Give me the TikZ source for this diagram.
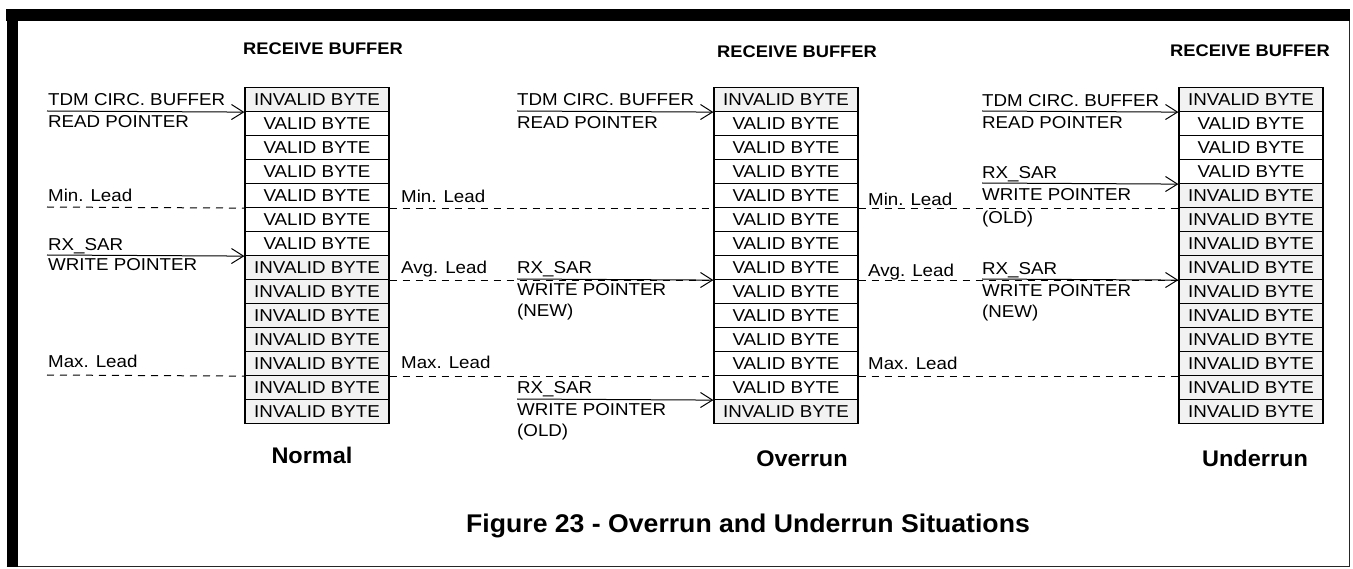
\documentclass[tikz,border=0pt]{standalone}
\usepackage{fontspec}
\setmainfont{Liberation Sans}[FakeStretch=1.09]
\newfontfamily\botfont{Liberation Sans}[FakeStretch=1.04]
\usetikzlibrary{arrows.meta}
\newcommand\txtI{INVALID BYTE}
\newcommand\txtV{VALID BYTE}
\begin{document}
\begin{tikzpicture}[x=1pt,y=-1pt,
  cellbase/.style={draw,line width=1.2pt,rectangle,minimum width=144pt,minimum height=24pt,inner sep=0pt,font=\fontsize{17.2}{20}\selectfont},
  cellV/.style={cellbase,fill=white},
  cellI/.style={cellbase,fill=black!5},
  lbl/.style={anchor=base west,inner sep=0pt,font=\fontsize{17.2}{20}\selectfont},
  ttl/.style={anchor=base,inner sep=0pt,font=\fontsize{16.8}{18}\selectfont\bfseries},
  sit/.style={anchor=base,inner sep=0pt,font=\botfont\fontsize{22.6}{26}\selectfont\bfseries},
  figcaption/.style={anchor=base,inner sep=0pt,font=\botfont\fontsize{25.6}{30}\selectfont\bfseries},
  ptr/.style={line width=1pt,-{Straight Barb[length=12pt,width=15pt,line width=1pt]}},
  lead/.style={line width=1pt,dash pattern=on 7pt off 6pt}]
\useasboundingbox (0,0) rectangle (1353,569);
% frame
\draw[line width=1.6pt,black!85] (6.5,566.5) -- (1349.5,566.5) -- (1349.5,15);
\fill (6,9) rectangle (1350,21);
\fill (6.5,9) rectangle (18.3,567);
% buffers
\foreach \s [count=\i] in {I,V,V,V,V,V,V,I,I,I,I,I,I,I}
  \node[cell\s] (a\i) at (317,75.5+24*\i) {\csname txt\s\endcsname};
\foreach \s [count=\i] in {I,V,V,V,V,V,V,V,V,V,V,V,V,I}
  \node[cell\s] (b\i) at (786,75.5+24*\i) {\csname txt\s\endcsname};
\foreach \s [count=\i] in {I,V,V,V,I,I,I,I,I,I,I,I,I,I}
  \node[cell\s] (c\i) at (1251,75.5+24*\i) {\csname txt\s\endcsname};
% titles
\node[ttl] (t1) at (323,55) {RECEIVE BUFFER};
\node[ttl] (t2) at (797,58) {RECEIVE BUFFER};
\node[ttl] (t3) at (1250,57) {RECEIVE BUFFER};
\node[sit] (n1) at (312,463) {Normal};
\node[sit] (n2) at (802,466) {Overrun};
\node[sit] (n3) at (1255,466) {Underrun};
\node[figcaption] (fig) at (748,532) {Figure 23 - Overrun and Underrun Situations};
% section 1 labels
\node[lbl] (l1a) at (48,105.5) {TDM CIRC. BUFFER};
\node[lbl] (l1b) at (48,128) {READ POINTER};
\node[lbl] (l1c) at (48,250.5) {RX\_SAR};
\node[lbl] (l1d) at (48,271) {WRITE POINTER};
\node[lbl] (l1e) at (48,202) {Min. Lead};
\node[lbl] (l1f) at (48,368) {Max. Lead};
% section 2 labels
\node[lbl] (l2a) at (517,106) {TDM CIRC. BUFFER};
\node[lbl] (l2b) at (517,129) {READ POINTER};
\node[lbl] (l2c) at (517,273.5) {RX\_SAR};
\node[lbl] (l2d) at (517,295.5) {WRITE POINTER};
\node[lbl] (l2e) at (517,316.5) {(NEW)};
\node[lbl] (l2f) at (517,394) {RX\_SAR};
\node[lbl] (l2g) at (517,415.5) {WRITE POINTER};
\node[lbl] (l2h) at (517,436) {(OLD)};
\node[lbl] (l2i) at (401,203) {Min. Lead};
\node[lbl] (l2j) at (401,273.5) {Avg. Lead};
\node[lbl] (l2k) at (401,368.5) {Max. Lead};
% section 3 labels
\node[lbl] (l3a) at (982,106.5) {TDM CIRC. BUFFER};
\node[lbl] (l3b) at (982,129) {READ POINTER};
\node[lbl] (l3c) at (982,179) {RX\_SAR};
\node[lbl] (l3d) at (982,200.5) {WRITE POINTER};
\node[lbl] (l3e) at (982,224) {(OLD)};
\node[lbl] (l3f) at (982,275) {RX\_SAR};
\node[lbl] (l3g) at (982,297) {WRITE POINTER};
\node[lbl] (l3h) at (982,318) {(NEW)};
\node[lbl] (l3i) at (868,205.5) {Min. Lead};
\node[lbl] (l3j) at (868,277) {Avg. Lead};
\node[lbl] (l3k) at (868,370) {Max. Lead};
% free ends
\coordinate (p1a) at (47,111);
\coordinate (p1b) at (47,255);
\coordinate (p2a) at (517,111);
\coordinate (p2b) at (517,279);
\coordinate (p2c) at (517,399);
\coordinate (p3a) at (982,111);
\coordinate (p3b) at (982,183);
\coordinate (p3c) at (982,279);
\coordinate (d1min) at (47,207);
\coordinate (d1max) at (47,375);
% lead lines
\draw[lead] (d1min) -- (a5.south west);
\draw[lead] (a5.south east) -- (b5.south west);
\draw[lead] (b5.south east) -- (c5.south west);
\draw[lead] (a8.south east) -- (b8.south west);
\draw[lead] (b8.south east) -- (c8.south west);
\draw[lead] (d1max) -- (a12.south west);
\draw[lead] (a12.south east) -- (b12.south west);
\draw[lead] (b12.south east) -- (c12.south west);
% pointers
\draw[ptr] (p1a) -- (a1.south west);
\draw[ptr] (p1b) -- (a7.south west);
\draw[ptr] (p2a) -- (b1.south west);
\draw[ptr] (p2b) -- (b8.south west);
\draw[ptr] (p2c) -- (b13.south west);
\draw[ptr] (p3a) -- (c1.south west);
\draw[ptr] (p3b) -- (c4.south west);
\draw[ptr] (p3c) -- (c8.south west);
\end{tikzpicture}
\end{document}
